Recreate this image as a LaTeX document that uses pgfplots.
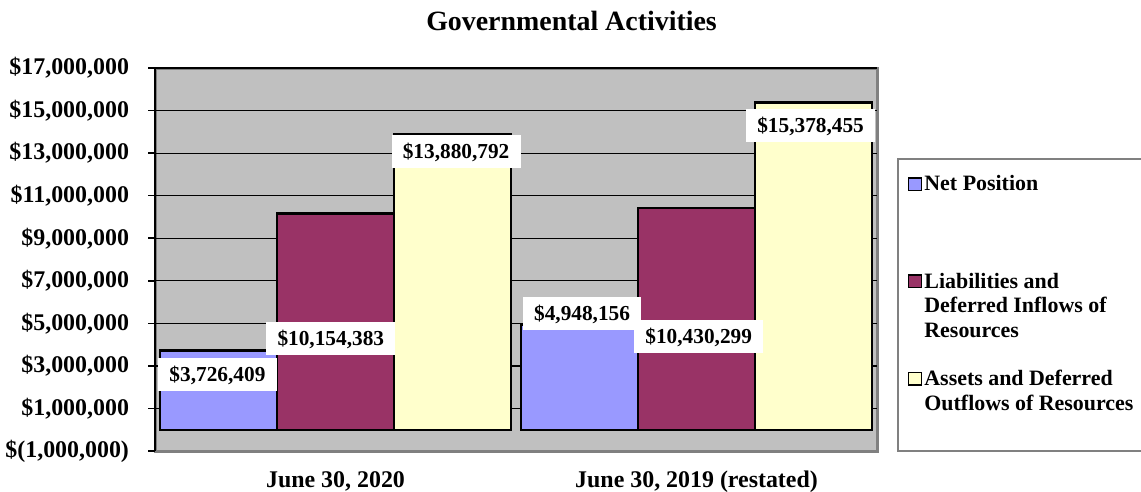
\documentclass[border=0pt]{standalone}
\usepackage{fontspec}
\setmainfont{Liberation Serif}
\usepackage{pgfplots}
\pgfplotsset{compat=1.18}

\definecolor{netpos}{HTML}{9999FF}
\definecolor{liab}{HTML}{993366}
\definecolor{assets}{HTML}{FFFFCC}
\definecolor{plotgray}{HTML}{C0C0C0}
\definecolor{bordergray}{HTML}{808080}

\tikzset{lbl/.style={fill=white, inner xsep=5.6bp, inner ysep=4bp, text height=7.6bp, text depth=0.9bp,
    font=\fontsize{10.7}{12}\selectfont\bfseries}}

\begin{document}
\begin{tikzpicture}[x=1bp,y=1bp]
\path[use as bounding box] (0,0) rectangle (570.5,-245.5);
\node[anchor=base, font=\fontsize{14}{16}\selectfont\bfseries] at (285.75,-15) {Governmental Activities};
\begin{axis}[
  at={(77.5bp,-34bp)}, anchor=north west,
  width=361bp, height=191.5bp, scale only axis,
  ybar, bar width=0.324,
  xmin=0.5, xmax=2.5, ymin=-1000000, ymax=17000000,
  enlargelimits=false,
  axis background/.style={fill=plotgray, draw=bordergray, line width=1.5bp},
  axis y line*=left, axis x line*=bottom,
  y axis line style={black, line width=1bp, -},
  x axis line style={draw=bordergray, line width=1.5bp, -},
  ymajorgrids, major grid style={black, line width=0.6bp},
  tick align=outside, major tick length=3.5bp,
  y tick style={black, line width=0.8bp},
  x tick style={draw=none},
  xtick={1,2},
  xticklabels={{June 30, 2020},{June 30, 2019 (restated)}},
  ytick={-1000000,1000000,3000000,5000000,7000000,9000000,11000000,13000000,15000000,17000000},
  yticklabels={{\$(1,000,000)},{\$1,000,000},{\$3,000,000},{\$5,000,000},{\$7,000,000},{\$9,000,000},{\$11,000,000},{\$13,000,000},{\$15,000,000},{\$17,000,000}},
  scaled y ticks=false,
  tick label style={font=\fontsize{12}{14}\selectfont\bfseries},
  yticklabel style={xshift=-6bp},
  xticklabel style={anchor=base, yshift=-14.5bp},
  legend image code/.code={\draw[#1, draw=black, line width=0.8bp] (0bp,0.2bp) rectangle (6.5bp,6.5bp);},
  legend style={at={(1.0277,0.765)}, anchor=north west, draw=bordergray, line width=0.8bp,
    fill=white, inner xsep=5bp, inner ysep=8.4bp, row sep=16bp, column sep=1bp,
    font=\fontsize{11}{12.5}\selectfont\bfseries,
    nodes={inner sep=0pt, text depth=, anchor=base west},
    cells={anchor=base west}},
]
\addplot[fill=netpos, draw=black, line width=1.2bp, bar shift=-0.324]
  coordinates {(1,3726409) (2,4948156)};
\addlegendentry{\parbox[t]{110bp}{Net Position\rule[-25bp]{0pt}{0pt}}}
\addplot[fill=liab, draw=black, line width=1.2bp, bar shift=0]
  coordinates {(1,10154383) (2,10430299)};
\addlegendentry{\parbox[t]{110bp}{Liabilities and\\Deferred Inflows of\\Resources}}
\addplot[fill=assets, draw=black, line width=1.2bp, bar shift=0.324]
  coordinates {(1,13880792) (2,15378455)};
\addlegendentry{\parbox[t]{110bp}{Assets and Deferred\\Outflows of Resources\rule[-12bp]{0pt}{0pt}}}

\node[lbl] at (axis cs:0.673,2580000) {\$3,726,409};
\node[lbl] at (axis cs:0.987,4290000) {\$10,154,383};
\node[lbl] at (axis cs:1.334,13070000) {\$13,880,792};
\node[lbl] at (axis cs:1.683,5460000) {\$4,948,156};
\node[lbl] at (axis cs:2.006,4390000) {\$10,430,299};
\node[lbl] at (axis cs:2.316,14290000) {\$15,378,455};
\end{axis}
\end{tikzpicture}
\end{document}
